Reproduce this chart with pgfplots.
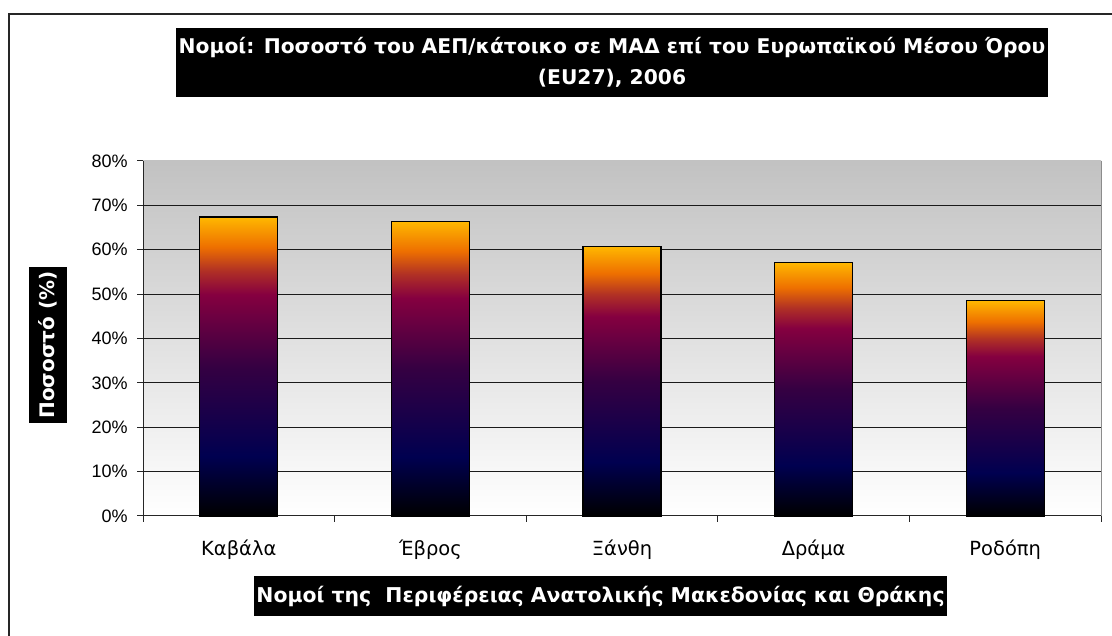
\documentclass[border=0pt]{standalone}
\usepackage{pgfplots}
\pgfplotsset{compat=1.18}
\usepackage{fontspec}
\setmainfont{DejaVu Sans}
\newfontfamily\dejavu{DejaVu Sans}
\newfontfamily\arialf{Liberation Sans}
\definecolor{gridc}{HTML}{1A1A1A}
\definecolor{fc1}{HTML}{000050}
\definecolor{fc2}{HTML}{350042}
\definecolor{fc3}{HTML}{850040}
\definecolor{fc4}{HTML}{B03025}
\definecolor{fc5}{HTML}{EE7000}
\definecolor{fc6}{HTML}{FFB800}
\pgfdeclareverticalshading{fire}{100bp}{color(0bp)=(black); color(25bp)=(black); color(35bp)=(fc1); color(50bp)=(fc2); color(62bp)=(fc3); color(66bp)=(fc4); color(70bp)=(fc5); color(75bp)=(fc6); color(100bp)=(fc6)}
\begin{document}
\begin{tikzpicture}[x=0.75pt,y=0.75pt]
\useasboundingbox (0,0) rectangle (1112,635);
\fill[white] (0,0) rectangle (1112,635);
\draw[line width=1.5pt, black!85] (8.5,-10) -- (8.5,621) -- (1125,621);
\begin{axis}[
  at={(107.25pt,89.25pt)}, anchor=south west,
  width=718.5pt, height=266.25pt, scale only axis,
  xmin=-0.5, xmax=4.5, ymin=0, ymax=80,
  axis x line*=bottom, axis y line*=left,
  axis line style={black!85, line width=0.75pt},
  axis background/.style={top color=black!24, bottom color=white},
  tick align=outside,
  major tick length=4.5pt,
  tick style={black!85, line width=0.75pt},
  xtick={-0.5,0.5,...,4.5},
  x tick label as interval=true,
  xticklabels={Καβάλα,Έβρος,Ξάνθη,Δράμα,Ροδόπη},
  xticklabel style={font=\dejavu\fontsize{14.6}{17}\selectfont, yshift=-10pt},
  ytick={0,10,...,80},
  yticklabels={0\%,10\%,20\%,30\%,40\%,50\%,60\%,70\%,80\%},
  yticklabel style={font=\arialf\fontsize{13.5}{16}\selectfont, xshift=-3.5pt},
  extra y ticks={10,20,...,70},
  extra y tick labels={},
  extra y tick style={ymajorgrids=true, major tick length=0pt},
  grid style={gridc, line width=0.75pt},
  clip=false,
  bar styl/.style={ybar, bar shift=0pt, bar width=58.5pt, draw=black, line width=1pt, shading=fire},
]
\addplot[bar styl] coordinates {(0,67.4)};
\addplot[bar styl] coordinates {(1,66.4)};
\addplot[bar styl] coordinates {(2,60.8)};
\addplot[bar styl] coordinates {(3,57.2)};
\addplot[bar styl] coordinates {(4,48.6)};
\draw[black!45, line width=0.75pt] (rel axis cs:1,0) -- (rel axis cs:1,1);
\end{axis}
\node[fill=black, text=white, minimum width=654pt, minimum height=51.75pt, inner sep=0pt, align=center,
  font=\bfseries\fontsize{15.2}{23}\selectfont] at (612,572.5) {Νομοί: Ποσοστό του ΑΕΠ/κάτοικο σε ΜΑΔ επί του Ευρωπαϊκού Μέσου Όρου\\(EU27), 2006};
\node[fill=black, text=white, minimum width=519.75pt, minimum height=30pt, inner sep=0pt,
  font=\bfseries\fontsize{15.3}{18}\selectfont] at (600.5,39) {Νομοί της\ \ Περιφέρειας Ανατολικής Μακεδονίας και Θράκης};
\node[rotate=90, fill=black, text=white, minimum width=117pt, minimum height=28.5pt, inner sep=0pt,
  font=\bfseries\fontsize{15}{18}\selectfont] at (48,290) {Ποσοστό (\%)};
\end{tikzpicture}
\end{document}
